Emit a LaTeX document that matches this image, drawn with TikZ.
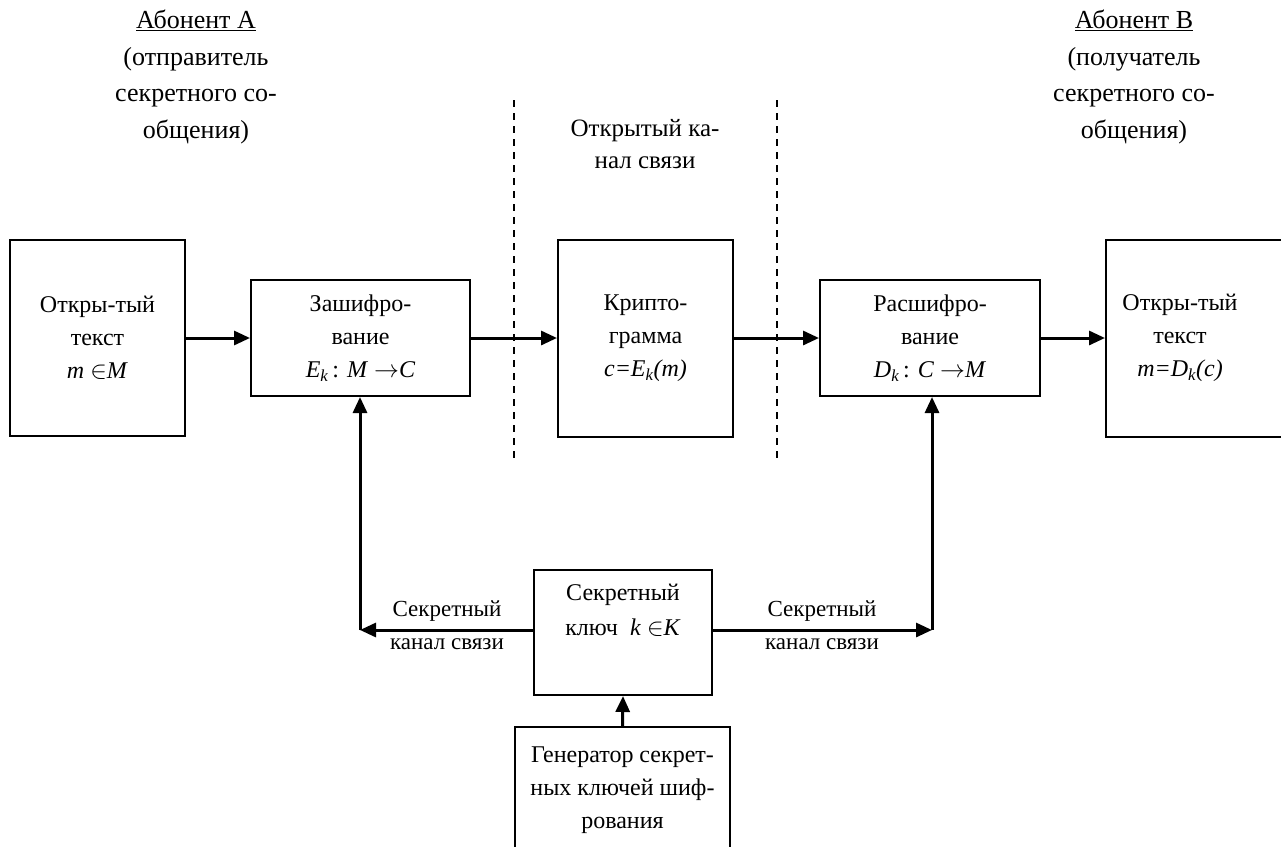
\documentclass[tikz,border=0pt]{standalone}
\usepackage{fontspec}
\setmainfont{Liberation Serif}
\usetikzlibrary{arrows.meta}
\begin{document}
\begin{tikzpicture}[x=1pt,y=-1pt,
 box/.style={draw,line width=2pt,inner sep=0pt,align=center,font=\fontsize{24}{33}\selectfont},
 txt/.style={align=center,inner sep=0pt,font=\fontsize{24}{35}\selectfont},
 toptxt/.style={align=center,inner sep=0pt,font=\fontsize{26}{36.7}\selectfont},
 chantxt/.style={align=center,inner sep=0pt,font=\fontsize{25}{32}\selectfont},
 lab/.style={align=center,inner sep=0pt,font=\fontsize{23}{33}\selectfont},
 arr/.style={line width=3pt,-{Triangle[length=16pt,width=14pt]}},
 sep/.style={line width=1.3pt,dash pattern=on 7pt off 6pt}]
\useasboundingbox (0,0) rectangle (1281,846);
\begin{scope}
\clip (0,0) rectangle (1281,846);
% top texts
\node[toptxt] (abA) at (196,77) {\underline{Абонент А}\\(отправитель\\секретного со-\\общения)};
\node[toptxt] (abB) at (1134,77) {\underline{Абонент В}\\(получатель\\секретного со-\\общения)};
\node[chantxt] (chan) at (645,144) {Открытый ка-\\нал связи};
% dashed separators
\coordinate (d1t) at (514,100); \coordinate (d1b) at (514,464);
\coordinate (d2t) at (777,100); \coordinate (d2b) at (777,464);
\draw[sep] (d1t) -- (d1b);
\draw[sep] (d2t) -- (d2b);
% boxes
\node[box,minimum width=175,minimum height=196] (src) at (97.5,338) {Откры-тый\\текст\\\textit{m} $\in$\textit{M}};
\node[box,minimum width=219,minimum height=116] (enc) at (360.5,338) {Зашифро-\\вание\\\textit{E\textsubscript{k}}\,: \textit{M} $\rightarrow$\textit{C}};
\node[box,minimum width=175,minimum height=197] (cry) at (645.5,338) {Крипто-\\грамма\\\textit{c=E\textsubscript{k}(m)}};
\node[box,minimum width=220,minimum height=116] (dec) at (930,338) {Расшифро-\\вание\\\textit{D\textsubscript{k}}\,: \textit{C} $\rightarrow$\textit{M}};
\node[box,minimum width=186,minimum height=197] (dst) at (1199,338) {};
\node[box,draw=none] (dstt) at (1180,338) {Откры-тый\\текст\\\textit{m=D\textsubscript{k}(c)}};
\node[box,minimum width=178,minimum height=125] (key) at (623,632.5) {};
\node[txt] (keyt) at (623,610) {Секретный\\ключ\ \ \textit{k} $\in$\textit{K}};
\node[box,minimum width=215,minimum height=126] (gen) at (622.5,790) {Генератор секрет-\\ных ключей шиф-\\рования};
% main flow
\draw[arr] (src.east) -- (enc.west);
\draw[arr] (enc.east) -- (cry.west);
\draw[arr] (cry.east) -- (dec.west);
\draw[arr] (dec.east) -- (dst.west);
% key distribution
\coordinate (kl) at (key.west |- 0,630);
\coordinate (kr) at (key.east |- 0,630);
\coordinate (lc) at (360,630);
\coordinate (rc) at (932,630);
\draw[arr] (kl) -- (lc);
\draw[arr] (lc) -- (lc |- enc.south);
\draw[arr] (kr) -- (rc);
\draw[arr] (rc) -- (rc |- dec.south);
\draw[arr] (gen.north) -- (key.south);
% channel labels
\node[lab] (cl) at (447,625) {Секретный\\канал связи};
\node[lab] (cr) at (822,625) {Секретный\\канал связи};
\end{scope}
\end{tikzpicture}
\end{document}
